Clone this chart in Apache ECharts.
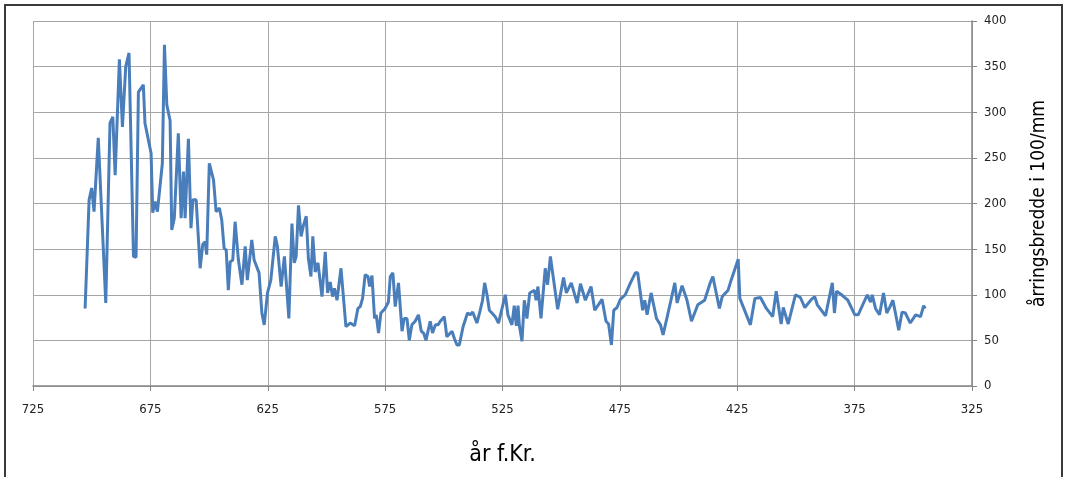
<!DOCTYPE html>
<html>
<head>
<meta charset="utf-8">
<script src="https://cdn.jsdelivr.net/npm/echarts@6/dist/echarts.min.js"></script>
<style>
html,body{margin:0;padding:0;background:#fff;}
#chart{width:1066px;height:477px;}
</style>
</head>
<body>
<div id="chart"></div>
<script>
// Years (f.Kr.) and ring widths (1/100 mm)
const years = [
702.8,701.1,700.0,699.0,697.2,694.0,692.2,691.0,690.0,688.2,686.9,685.5,684.1,682.2,681.1,680.1,678.0,677.3,674.7,674.0,
673.0,672.0,669.9,669.0,668.0,666.6,665.9,664.8,663.1,661.9,660.9,660.2,658.8,657.7,656.9,655.5,653.8,652.7,651.7,651.0,
649.9,648.1,647.0,645.6,644.6,643.6,642.7,641.8,641.0,639.9,638.9,637.5,636.0,634.6,633.7,631.8,630.8,628.7,627.5,626.5,
625.1,623.7,621.8,620.9,619.3,617.9,616.0,614.7,613.7,612.9,611.9,610.8,609.8,608.6,607.7,606.6,605.8,604.8,603.6,603.0,
601.9,600.5,599.5,598.4,597.4,596.6,595.5,593.8,591.7,589.9,588.0,586.6,585.6,584.6,583.5,582.3,581.6,580.6,579.5,578.8,
577.8,576.8,575.0,573.6,572.8,571.7,570.7,569.3,567.8,566.9,565.7,564.7,563.6,562.2,560.8,559.6,558.6,557.6,555.8,554.8,
553.6,552.5,551.5,549.8,548.7,546.5,545.5,544.4,543.4,541.8,539.9,538.7,537.7,535.9,534.5,533.5,532.6,531.6,530.6,529.5,
528.1,526.7,523.8,522.7,521.0,520.0,519.1,518.4,517.8,516.7,515.7,514.6,513.4,511.4,510.7,509.9,508.6,506.8,505.8,504.6,
501.5,499.0,497.8,495.7,493.2,491.8,489.7,487.3,485.7,482.6,480.9,479.8,478.6,477.6,476.2,474.8,472.7,470.5,468.4,467.4,
465.3,464.4,463.4,461.7,459.4,457.7,456.6,454.2,451.6,450.6,448.5,446.4,444.5,441.8,438.9,436.4,435.4,432.6,431.4,428.9,
427.6,424.6,423.9,419.4,417.5,415.1,412.6,409.9,408.4,406.3,405.4,403.3,400.2,398.1,396.2,393.4,392.0,390.9,387.4,384.5,
383.6,382.7,380.6,377.9,374.9,373.5,369.6,368.2,367.5,366.1,364.4,362.7,361.3,359.9,358.7,357.7,356.2,354.8,353.4,351.3,
349.0,346.9,345.6,344.9
];
const widths = [
85,204,217,191,272,91,288,295,231,358,284,350,365,142,141,322,330,288,255,190,
202,191,244,374,308,291,171,184,277,184,235,184,271,173,204,204,129,155,158,144,
244,226,191,195,182,151,149,105,136,138,180,138,111,153,116,160,138,124,80,67,
102,116,164,153,109,142,74,178,135,142,198,164,176,186,140,120,164,125,135,133,
98,147,102,114,98,107,94,129,65,69,66,85,87,96,122,120,109,121,74,78,
58,80,85,92,120,124,87,113,60,74,74,50,67,71,78,60,58,50,71,58,
67,67,71,76,54,60,52,45,45,65,80,78,81,69,83,94,113,100,83,80,
76,69,100,78,67,88,66,88,66,49,94,74,102,105,94,109,74,129,111,142,
84,119,102,113,91,112,94,109,83,95,71,68,45,83,86,95,100,113,124,124,
83,94,78,102,74,67,56,83,113,91,110,94,71,89,94,114,120,85,98,105,
116,139,96,67,96,97,85,76,104,68,86,68,100,97,86,95,98,89,77,113,
80,104,100,94,78,78,100,92,100,85,78,102,80,87,94,81,61,81,80,69,
78,76,88,85
];
const xTicks = [725,675,625,575,525,475,425,375,325];
const yTicks = [0,50,100,150,200,250,300,350,400];

const chart = echarts.init(document.getElementById('chart'), null, {renderer:'canvas'});
const font = '"DejaVu Sans Condensed", "Liberation Sans", sans-serif';
chart.setOption({
  animation:false,
  backgroundColor:'#ffffff',
  grid:{left:33, right:94, top:21, bottom:91},
  graphic:[{type:'rect', shape:{x:5,y:5,width:1057,height:480}, style:{fill:'none', stroke:'#3a3a3a', lineWidth:2}, silent:true}],
  xAxis:{
    type:'value', inverse:true, min:xTicks[xTicks.length-1], max:xTicks[0], interval:50,
    name:'år f.Kr.', nameLocation:'middle', nameGap:58,
    nameTextStyle:{fontSize:23, color:'#000', fontFamily:font},
    axisLine:{show:true, onZero:false, lineStyle:{color:'#868686', width:1.5}},
    axisTick:{show:true, length:5, lineStyle:{color:'#868686'}},
    axisLabel:{fontSize:13, color:'#222', margin:17, fontFamily:font},
    splitLine:{show:true, lineStyle:{color:'#a6a6a6', width:1}}
  },
  yAxis:{
    type:'value', position:'right', min:yTicks[0], max:yTicks[yTicks.length-1], interval:50,
    name:'årringsbredde i 100/mm', nameLocation:'middle', nameGap:58, nameRotate:90,
    nameTextStyle:{fontSize:19, color:'#000', fontFamily:font},
    axisLine:{show:true, lineStyle:{color:'#868686', width:1.5}},
    axisTick:{show:true, length:5, lineStyle:{color:'#868686'}},
    axisLabel:{fontSize:13, color:'#222', margin:12, fontFamily:font},
    splitLine:{show:true, lineStyle:{color:'#a6a6a6', width:1}}
  },
  series:[{
    type:'line', showSymbol:false, symbol:'none',
    data: years.map((y,i)=>[y, widths[i]]),
    lineStyle:{color:'#4a7ebb', width:3},
    itemStyle:{color:'#4a7ebb'}
  }]
});
</script>
</body>
</html>
